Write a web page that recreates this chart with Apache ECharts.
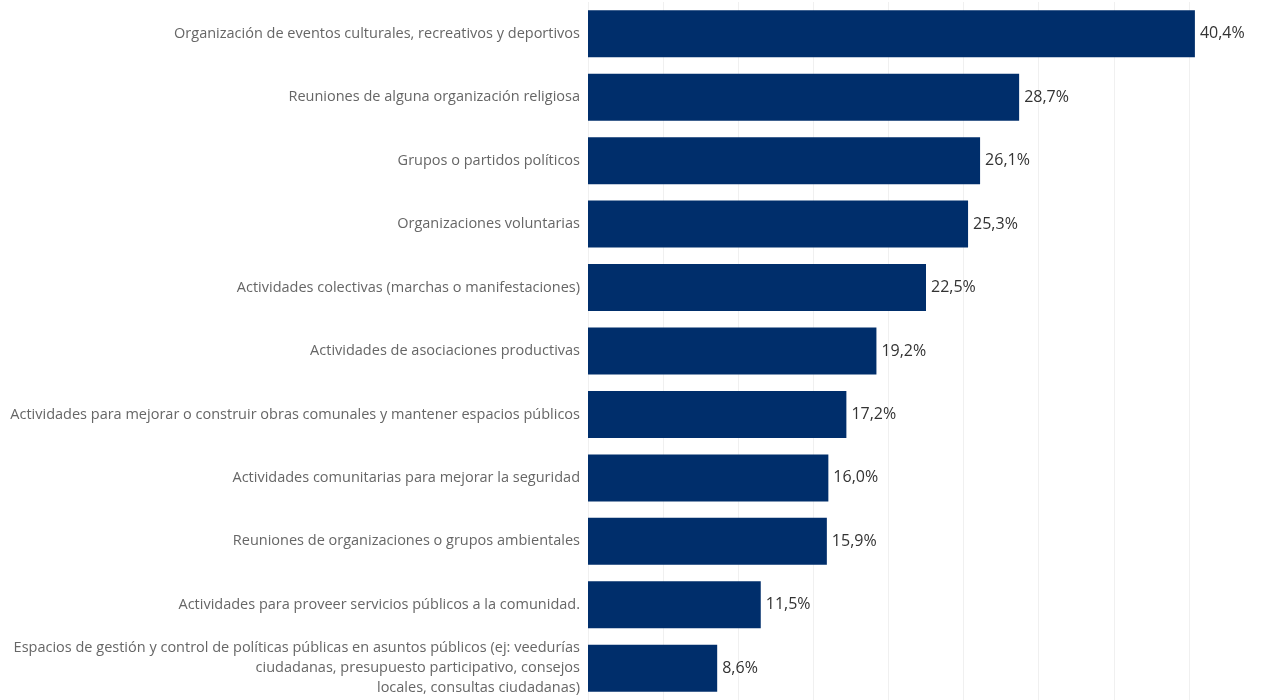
<!DOCTYPE html>
<html>
<head>
<meta charset="utf-8">
<script src="https://cdn.jsdelivr.net/npm/echarts@6/dist/echarts.min.js"></script>
<style>
html,body{margin:0;padding:0;background:#fff;}
#chart{width:1264px;height:700px;}
</style>
</head>
<body>
<div id="chart"></div>
<script>
const categories = [
  "Organización de eventos culturales, recreativos y deportivos",
  "Reuniones de alguna organización religiosa",
  "Grupos o partidos políticos",
  "Organizaciones voluntarias",
  "Actividades colectivas (marchas o manifestaciones)",
  "Actividades de asociaciones productivas",
  "Actividades para mejorar o construir obras comunales y mantener espacios públicos",
  "Actividades comunitarias para mejorar la seguridad",
  "Reuniones de organizaciones o grupos ambientales",
  "Actividades para proveer servicios públicos a la comunidad.",
  "Espacios de gestión y control de políticas públicas en asuntos públicos (ej: veedurías\nciudadanas, presupuesto participativo, consejos\nlocales, consultas ciudadanas)"
];
const values = [40.4, 28.7, 26.1, 25.3, 22.5, 19.2, 17.2, 16.0, 15.9, 11.5, 8.6];

const chart = echarts.init(document.getElementById('chart'));
chart.setOption({
  animation: false,
  grid: { left: 588, right: 0, top: 2, bottom: 0, containLabel: false },
  xAxis: {
    type: 'value', min: 0, max: 45, interval: 5,
    axisLine: { show: false }, axisTick: { show: false },
    axisLabel: { show: false },
    splitLine: { show: true, lineStyle: { color: '#f0f0f0', width: 1 } }
  },
  yAxis: {
    type: 'category', data: categories, inverse: true,
    axisLine: { show: false }, axisTick: { show: false },
    axisLabel: {
      color: '#666', fontSize: 14.5, fontFamily: 'Open Sans', margin: 8,
      lineHeight: 20, align: 'right'
    }
  },
  series: [{
    type: 'bar', data: values, barWidth: 47,
    itemStyle: { color: '#002E6B' },
    label: {
      show: true, position: 'right', distance: 5,
      color: '#333', fontSize: 16, fontFamily: 'Open Sans',
      formatter: p => p.value.toFixed(1).replace('.', ',') + '%'
    }
  }]
});
</script>
</body>
</html>
